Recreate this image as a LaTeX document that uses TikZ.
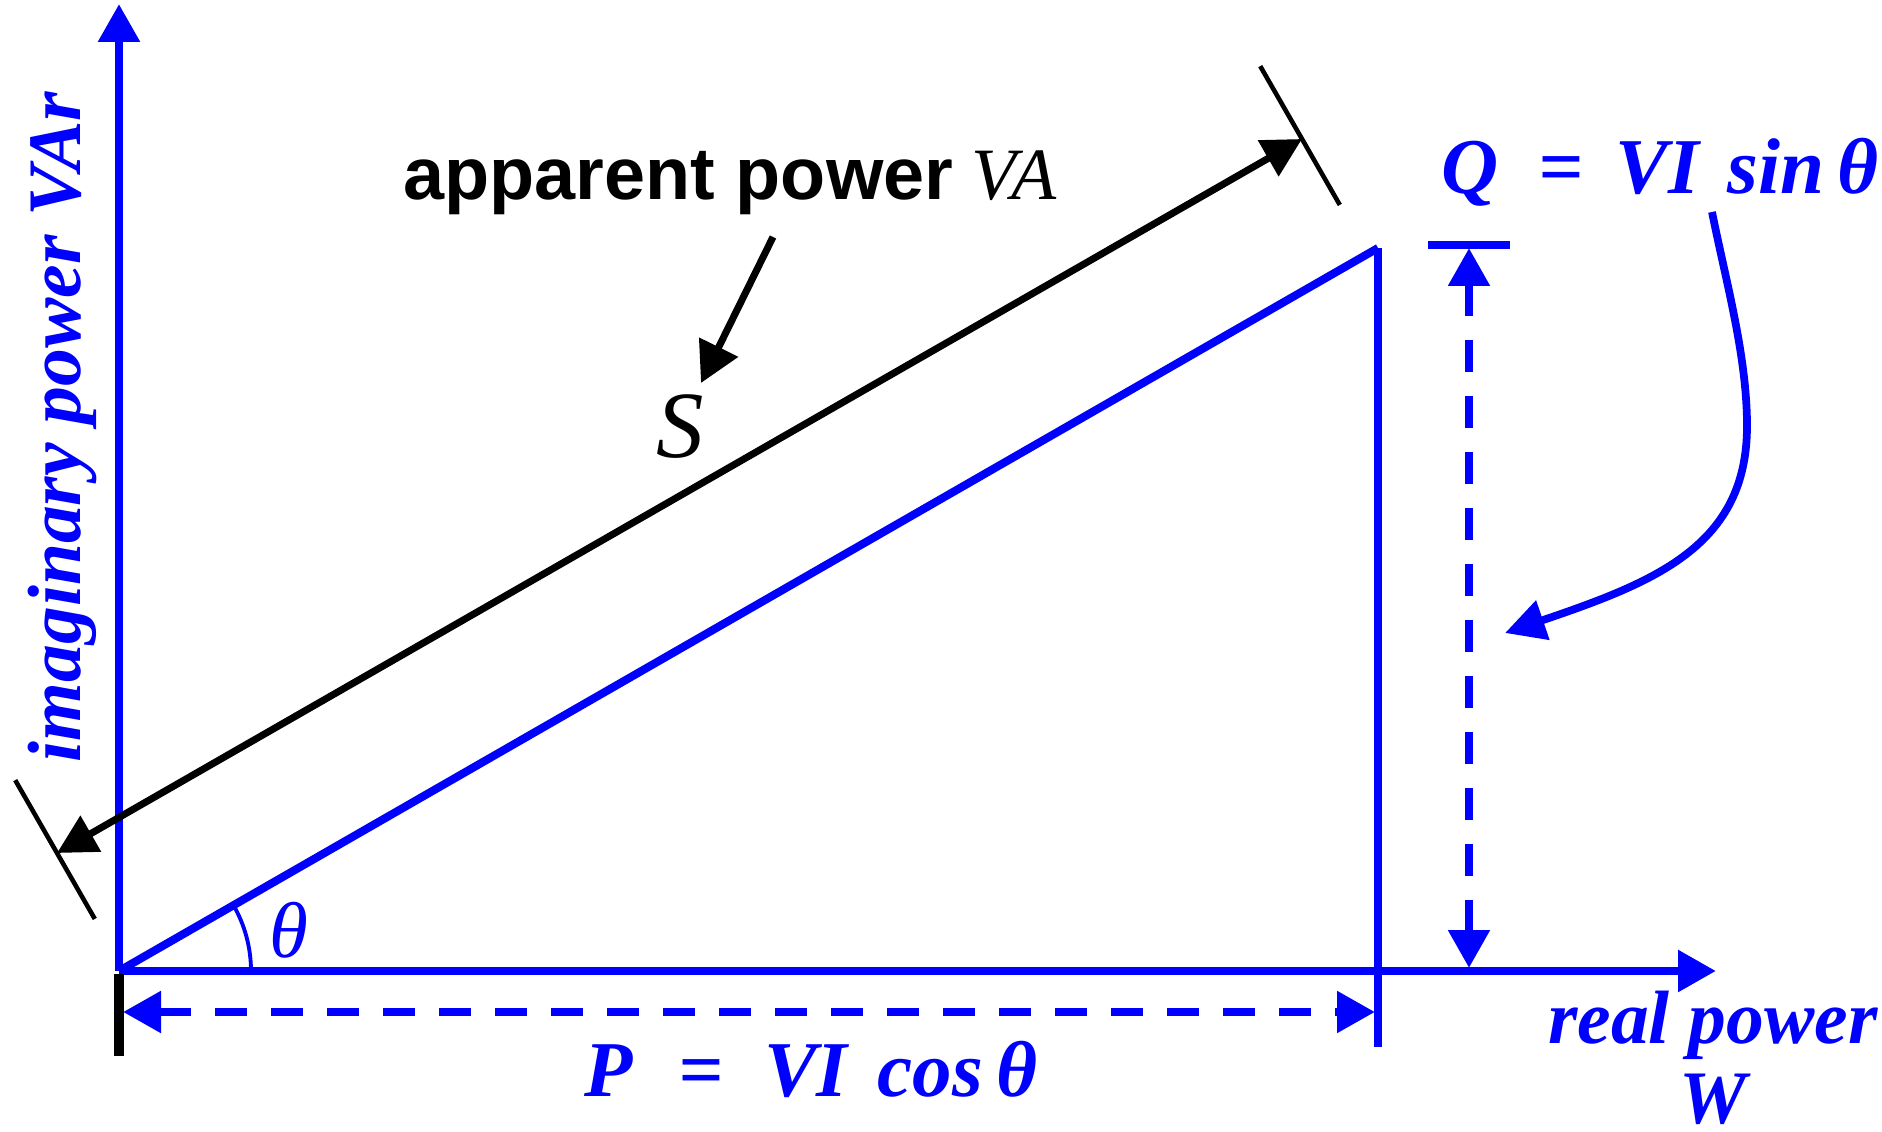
\documentclass[tikz,border=0pt]{standalone}
\usepackage{fontspec}
\setmainfont{Liberation Serif}
\setsansfont{Liberation Sans}
\usetikzlibrary{arrows.meta,positioning,calc}
\definecolor{pwBlue}{HTML}{0000FF}
\definecolor{pwInk}{HTML}{000000}
\tikzset{
  pwaxis/.style   ={pwBlue,line width=2.5pt,-{Triangle[length=3.8mm,width=4mm]}},
  triside/.style  ={pwBlue,line width=2.3pt},
  dimarrow/.style ={pwBlue,line width=2.4pt,dash pattern=on 3.2mm off 2.4mm,
                    {Triangle[length=3.8mm,width=4mm]}-{Triangle[length=3.8mm,width=4mm]}},
  qbar/.style     ={pwBlue,line width=2.4pt},
  swing/.style    ={pwBlue,line width=2.2pt,-{Triangle[length=4mm,width=4mm]}},
  anglearc/.style ={pwBlue,line width=1.1pt},
  sline/.style    ={pwInk,line width=2pt,
                    {Triangle[length=3.9mm,width=4mm]}-{Triangle[length=3.9mm,width=4mm]}},
  stick/.style    ={pwInk,line width=1.3pt},
  pointer/.style  ={pwInk,line width=2pt,-{Triangle[length=4mm,width=4.2mm]}},
  origtick/.style ={pwInk,line width=2.6pt},
  blbl/.style     ={text=pwBlue,inner sep=0pt,font=\fontsize{21.5}{25.6}\selectfont\bfseries\itshape},
  eqlbl/.style    ={blbl,font=\fontsize{22.5}{27}\selectfont\bfseries\itshape},
  klbl/.style     ={text=pwInk,inner sep=0pt,font=\fontsize{21}{25}\selectfont},
}
\begin{document}
\begin{tikzpicture}
\useasboundingbox (0,0) rectangle (18.82,-11.32);
\coordinate (O)    at (1.19,-9.71);
\coordinate (ytip) at (1.19,-0.04);
\coordinate (xtip) at (17.16,-9.71);
\coordinate (T)    at (13.78,-2.48);
\coordinate (Tb)   at (13.78,-10.47);

% axes and the power triangle
\draw[pwaxis] (O) -- (ytip);
\draw[pwaxis] (O) -- (xtip);
\draw[triside] (O) -- (T);
\draw[triside] (T) -- (Tb);
\draw[anglearc] ([shift={(0:1.32)}]O) arc[start angle=0,end angle=29.9,radius=1.32];
\node[text=pwBlue,inner sep=0pt,font=\fontsize{22.5}{26}\selectfont\itshape] (theta) at (2.89,-9.30) {θ};

\node[blbl,rotate=90,anchor=base] (ylab) at (0.80,-4.27) {imaginary power VAr};
\node[blbl,anchor=base] (xlab) at (17.13,-10.43) {real power};
\node[blbl,anchor=base] (xunit) at ([yshift=-0.80cm]xlab.base) {W};

% real part P
\coordinate (ot0) at (1.19,-9.74);
\coordinate (ot1) at (1.19,-10.56);
\draw[origtick] (ot0) -- (ot1);
\coordinate (pl) at (1.23,-10.12);
\coordinate (pr) at (13.75,-10.12);
\draw[dimarrow] (pl) -- (pr);
\node[eqlbl,anchor=base west] (plab) at (5.84,-10.96)
  {P\hspace{0.46cm}=\hspace{0.40cm}VI\hspace{0.30cm}cos\,θ};

% imaginary part Q
\coordinate (qb0) at (14.28,-2.45);
\coordinate (qb1) at (15.10,-2.45);
\draw[qbar] (qb0) -- (qb1);
\coordinate (qt) at (14.69,-2.48);
\coordinate (qb) at (14.69,-9.68);
\draw[dimarrow] (qt) -- (qb);
\node[eqlbl,anchor=base west] (qlab) at (14.41,-1.94)
  {Q\hspace{0.40cm}=\hspace{0.32cm}VI\hspace{0.28cm}sin\,θ};
\coordinate (qfoot) at (17.12,-2.12);
\coordinate (qturn) at (17.47,-4.26);
\coordinate (qtip)  at (15.05,-6.33);
\draw[swing] (qfoot) .. controls (17.26,-2.82) and (17.47,-3.56) .. (qturn)
                     .. controls (17.47,-5.46) and (16.55,-5.82) .. (qtip);

% apparent power S
\coordinate (S0) at (0.57,-8.53);
\coordinate (S1) at (13.02,-1.39);
\draw[sline] (S0) -- (S1);
\draw[stick] ($(S0)!0.84cm!90:(S1)$) -- ($(S0)!0.76cm!-90:(S1)$);
\draw[stick] ($(S1)!0.84cm!-90:(S0)$) -- ($(S1)!0.76cm!90:(S0)$);
\node[klbl,anchor=base west] (app) at (4.03,-2.00)
  {\textsf{\textbf{apparent power}} \textit{VA}};
\node[klbl,font=\fontsize{27}{30}\selectfont\itshape] (slab) at (6.80,-4.27) {S};
\coordinate (appfoot) at (7.73,-2.37);
\coordinate (stip)    at (7.01,-3.83);
\draw[pointer] (appfoot) -- (stip);
\end{tikzpicture}
\end{document}
